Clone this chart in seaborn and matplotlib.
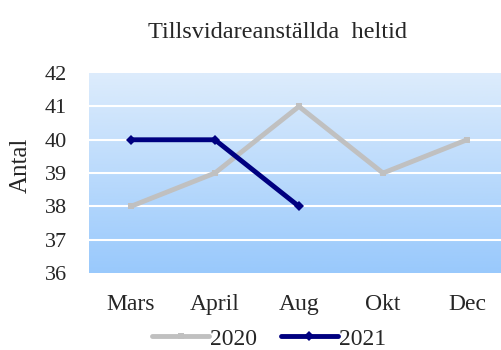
import numpy as np
import pandas as pd
import matplotlib
matplotlib.use("Agg")
import matplotlib.pyplot as plt
import seaborn as sns
from matplotlib.colors import LinearSegmentedColormap

months = ["Mars", "April", "Aug", "Okt", "Dec"]
values_2020 = [38, 39, 41, 39, 40]
values_2021 = [40, 40, 38, np.nan, np.nan]
y_ticks = [36, 37, 38, 39, 40, 41, 42]

df = pd.DataFrame({
    "Månad": months * 2,
    "Antal": values_2020 + values_2021,
    "År": ["2020"] * 5 + ["2021"] * 5,
})
df["pos"] = list(range(5)) * 2

sns.set_theme(style="white")
serif = ["Liberation Serif", "DejaVu Serif"]
fs = 16

fig = plt.figure(figsize=(5.02, 3.5), dpi=100)
ax = fig.add_axes([0.177, 0.22, 0.837, 0.571])

# vertical gradient background
cmap = LinearSegmentedColormap.from_list("bg", ["#99C9FC", "#DDECFC"])
grad = np.linspace(0, 1, 256).reshape(-1, 1)
ax.imshow(grad, aspect="auto", cmap=cmap, origin="lower",
          extent=[-0.5, 4.5, 36, 42], zorder=0)

for y in y_ticks[1:-1]:
    ax.axhline(y, color="white", lw=1.5, zorder=1)

palette = {"2020": "#C0C0C0", "2021": "#000080"}
sns.lineplot(data=df[df["År"] == "2020"], x="pos", y="Antal", color=palette["2020"],
             lw=3.5, marker="s", markersize=5, markeredgewidth=0, ax=ax,
             label="2020", zorder=3)
sns.lineplot(data=df[df["År"] == "2021"].dropna(), x="pos", y="Antal", color=palette["2021"],
             lw=3.5, marker="D", markersize=5, markeredgewidth=0, ax=ax,
             label="2021", zorder=4)

ax.set_xlim(-0.5, 4.5)
ax.set_ylim(36, 42)
ax.set_xticks(range(5))
ax.set_xticklabels(months, fontfamily=serif, fontsize=17)
ax.set_yticks(y_ticks)
ax.set_yticklabels([str(t) for t in y_ticks], fontfamily=serif, fontsize=fs)
ax.tick_params(axis="x", pad=15, length=0)
ax.tick_params(axis="y", pad=16, length=0)
for s in ax.spines.values():
    s.set_visible(False)

ax.set_xlabel("")
ax.set_ylabel("Antal", fontfamily=serif, fontsize=18)
ax.yaxis.set_label_coords(-0.136, 0.54)
ax.set_title("Tillsvidareanställda  heltid", fontfamily=serif, fontsize=17.5, pad=25,
             x=0.448)

leg = ax.legend(loc="center", bbox_to_anchor=(0.429, -0.33), ncol=2, frameon=False,
                handlelength=2.4, handletextpad=0.05, columnspacing=1.0,
                prop={"family": serif, "size": 17})

fig.savefig("out.png", dpi=100)
